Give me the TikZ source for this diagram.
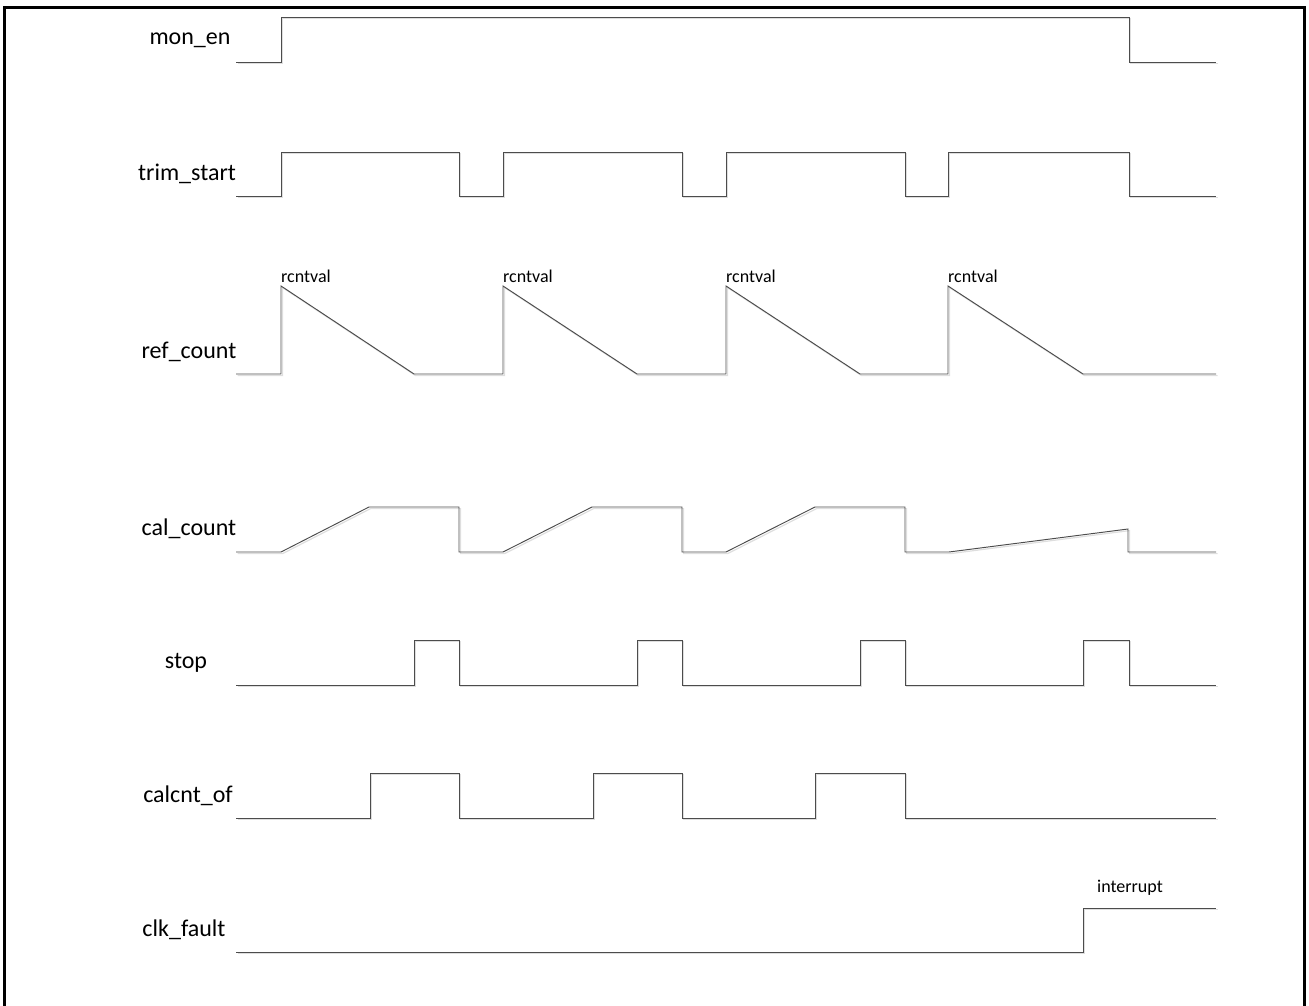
\documentclass[tikz,border=0pt]{standalone}
\usepackage{fontspec}
\setmainfont{Carlito}
\newcommand\wavepath[1]{\draw[shadowline,shift={(1.6,1.6)}] #1; \draw[waveline] #1;}
\begin{document}
\begin{tikzpicture}[x=1pt,y=-1pt,
  waveline/.style={draw=black!70, line width=0.95pt, line join=miter},
  shadowline/.style={draw=black!13, line width=1.2pt, line join=miter},
  lbl/.style={font=\fontsize{24}{28}\selectfont, inner sep=0pt, anchor=center},
  small/.style={font=\fontsize{18}{21}\selectfont, inner sep=0pt}]
\useasboundingbox (0,0) rectangle (1309,1006);
\begin{scope}
\clip (0,0) rectangle (1309,1006);
\draw[line width=2.6pt] (4.5,1030) -- (4.5,7.5) -- (1304.5,7.5) -- (1304.5,1030);
\end{scope}
% labels
\node[lbl] (lmon) at (190,40) {mon\_en};
\node[lbl] (ltrim) at (187,174) {trim\_start};
\node[lbl] (lref) at (189,352) {ref\_count};
\node[lbl] (lcal) at (189,529) {cal\_count};
\node[lbl] (lstop) at (186,663) {stop};
\node[lbl] (lof) at (188,796) {calcnt\_of};
\node[lbl] (lclk) at (184,930) {clk\_fault};
\node[small, anchor=west] (r1) at (281,276) {rcntval};
\node[small, anchor=west] (r2) at (503,276) {rcntval};
\node[small, anchor=west] (r3) at (726,276) {rcntval};
\node[small, anchor=west] (r4) at (948,276) {rcntval};
\node[small] (intr) at (1130,888) {interrupt};
% mon_en
\wavepath{(236,62) -- (281,62) -- (281,17) -- (1129,17) -- (1129,62) -- (1216,62)}
% trim_start
\wavepath{(236,196) -- (281,196) -- (281,152) -- (459,152) -- (459,196) -- (503,196) -- (503,152) -- (682,152) -- (682,196) -- (726,196) -- (726,152) -- (905,152) -- (905,196) -- (948,196) -- (948,152) -- (1129,152) -- (1129,196) -- (1216,196)}
% ref_count
\wavepath{(236,374) -- (281,374) -- (281,286) -- (414,374) -- (503,374) -- (503,286) -- (637,374) -- (726,374) -- (726,286) -- (860,374) -- (948,374) -- (948,286) -- (1083,374) -- (1216,374)}
% cal_count
\wavepath{(236,552) -- (281,552) -- (369,507) -- (459,507) -- (459,552) -- (503,552) -- (592,507) -- (682,507) -- (682,552) -- (726,552) -- (815,507) -- (905,507) -- (905,552) -- (949,552) -- (1128,529) -- (1128,552) -- (1216,552)}
% stop
\wavepath{(236,685) -- (414,685) -- (414,640) -- (459,640) -- (459,685) -- (637,685) -- (637,640) -- (682,640) -- (682,685) -- (860,685) -- (860,640) -- (905,640) -- (905,685) -- (1083,685) -- (1083,640) -- (1129,640) -- (1129,685) -- (1216,685)}
% calcnt_of
\wavepath{(236,818) -- (370,818) -- (370,773) -- (459,773) -- (459,818) -- (593,818) -- (593,773) -- (682,773) -- (682,818) -- (815,818) -- (815,773) -- (905,773) -- (905,818) -- (1216,818)}
% clk_fault
\wavepath{(236,952) -- (1083,952) -- (1083,908) -- (1216,908)}
\end{tikzpicture}
\end{document}
